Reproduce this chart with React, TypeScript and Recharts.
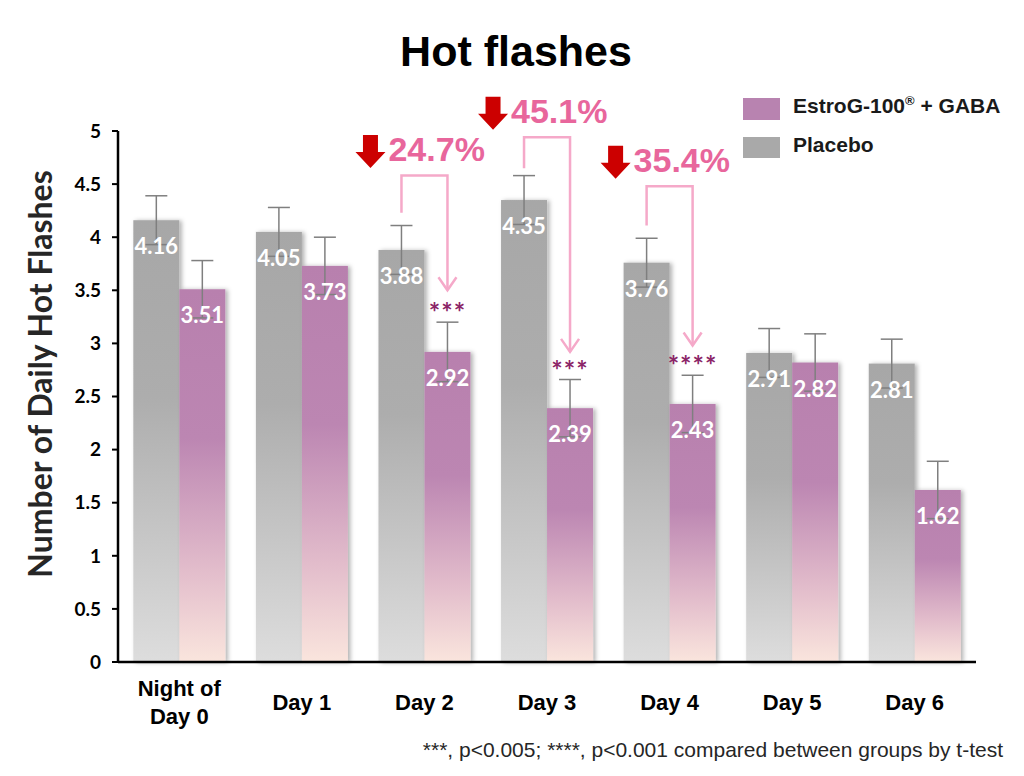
import React from 'react';
import { BarChart, Bar, XAxis, YAxis, ErrorBar } from 'recharts';

// categories and series
const categories = ['Night of\nDay 0', 'Day 1', 'Day 2', 'Day 3', 'Day 4', 'Day 5', 'Day 6'];
const placebo = [4.16, 4.05, 3.88, 4.35, 3.76, 2.91, 2.81];
const placeboErr = [0.23, 0.23, 0.23, 0.23, 0.23, 0.23, 0.23];
const estrog = [3.51, 3.73, 2.92, 2.39, 2.43, 2.82, 1.62];
const estrogErr = [0.27, 0.27, 0.28, 0.27, 0.27, 0.27, 0.27];
const stars = ['', '', '***', '***', '****', '', ''];
const yTicks = [0, 0.5, 1, 1.5, 2, 2.5, 3, 3.5, 4, 4.5, 5];

// reduction annotations (category index, percent, bracket levels in data units)
const dropDays = [2, 3, 4];
const dropPct = ['24.7%', '45.1%', '35.4%'];
const bracketTop = [4.58, 4.94, 4.48];
const bracketLeftEnd = [4.23, 4.65, 4.11];
const arrowTip = [3.5, 2.92, 2.98];

const rows = categories.map((cat, i) => ({
  cat,
  placebo: placebo[i],
  placeboErr: placeboErr[i],
  estrog: estrog[i],
  estrogErr: estrogErr[i],
}));

const CALIBRI = 'Lato, "Open Sans", sans-serif';
const ARIAL = '"Liberation Sans", Arial, sans-serif';

const ShadowBar = (props: any) => {
  const { x, y, width, height, fill } = props;
  if (!height || height <= 0) return null;
  return <rect x={x} y={y} width={width} height={height} fill={fill} filter="url(#barShadow)" />;
};

const PlaceboLabel = (props: any) => {
  const { x, y, width, height, value, index } = props;
  const bottom = y + height;
  const per = height / value;
  const yOf = (v: number) => bottom - v * per;
  const k = dropDays.indexOf(index);
  let annot = null;
  if (k >= 0) {
    const lx = x + width / 2;
    const rx = x + width * 1.5;
    const yt = yOf(bracketTop[k]);
    const yl = yOf(bracketLeftEnd[k]);
    const tip = yOf(arrowTip[k]);
    const base = yt - 14.5;
    const ax = lx - 31;
    const top = base - 26;
    const aTip = base + 7;
    const sb = top + 17;
    annot = (
      <g>
        <path d={`M${lx},${yl} V${yt} H${rx} V${tip}`} fill="none" stroke="#f5a9c9" strokeWidth={2.5} />
        <path d={`M${rx - 9},${tip - 13} L${rx},${tip} L${rx + 9},${tip - 13}`} fill="none" stroke="#f5a9c9" strokeWidth={2.5} />
        <polygon
          points={`${ax - 7.5},${top} ${ax + 7.5},${top} ${ax + 7.5},${sb} ${ax + 15},${sb} ${ax},${aTip} ${ax - 15},${sb} ${ax - 7.5},${sb}`}
          fill="#cc0000"
        />
        <text x={lx - 13} y={base} fontFamily={ARIAL} fontWeight="bold" fontSize={34} fill="#e8669c">
          {dropPct[k]}
        </text>
      </g>
    );
  }
  return (
    <g>
      <text x={x + width / 2} y={y + 34} textAnchor="middle" fontFamily={CALIBRI} fontWeight="bold" fontSize={22} fill="#fff">
        {value.toFixed(2)}
      </text>
      {annot}
    </g>
  );
};

const EstrogLabel = (props: any) => {
  const { x, y, width, height, value, index } = props;
  const bottom = y + height;
  const per = height / value;
  const errTop = bottom - (value + estrogErr[index]) * per;
  return (
    <g>
      <text x={x + width / 2} y={y + 34} textAnchor="middle" fontFamily={CALIBRI} fontWeight="bold" fontSize={22} fill="#fff">
        {value.toFixed(2)}
      </text>
      {stars[index] ? (
        <text
          x={x + width / 2}
          y={errTop - 15 + 15}
          textAnchor="middle"
          fontFamily={CALIBRI}
          fontWeight="bold"
          fontSize={27}
          letterSpacing={1}
          fill="#8b2467"
        >
          {stars[index]}
        </text>
      ) : null}
    </g>
  );
};

const CatTick = (props: any) => {
  const { x, y, payload } = props;
  const lines = String(payload.value).split('\n');
  const first = y + 40 - (lines.length - 1) * 14;
  return (
    <text textAnchor="middle" fontFamily={ARIAL} fontWeight="bold" fontSize={22} fill="#000">
      {lines.map((l, i) => (
        <tspan key={i} x={x} y={first + i * 28}>
          {l}
        </tspan>
      ))}
    </text>
  );
};

const YTitle = () => (
  <text
    x={52}
    y={374}
    transform="rotate(-90, 52, 374)"
    textAnchor="middle"
    fontFamily={CALIBRI}
    fontWeight="bold"
    fontSize={32}
    fill="#262626"
  >
    Number of Daily Hot Flashes
  </text>
);

export default function App() {
  return (
    <div style={{ position: 'absolute', left: 0, top: 0, width: 1024, height: 776, background: '#fff' }}>
      <BarChart
        width={1024}
        height={776}
        data={rows}
        margin={{ top: 131, right: 48, left: 48, bottom: 0 }}
        barCategoryGap="12.5%"
        barGap={0}
      >
        <defs>
          <linearGradient id="gPlacebo" x1="0" y1="0" x2="0" y2="1">
            <stop offset="0%" stopColor="#a7a7a7" />
            <stop offset="40%" stopColor="#adadad" />
            <stop offset="100%" stopColor="#dddddd" />
          </linearGradient>
          <linearGradient id="gEstrog" x1="0" y1="0" x2="0" y2="1">
            <stop offset="0%" stopColor="#b880ae" />
            <stop offset="40%" stopColor="#bc86b2" />
            <stop offset="75%" stopColor="#e2bccb" />
            <stop offset="100%" stopColor="#fae5dd" />
          </linearGradient>
          <filter id="barShadow" x="-20%" y="-5%" width="140%" height="110%">
            <feDropShadow dx={2.5} dy={0.5} stdDeviation={2} floodColor="#000" floodOpacity={0.3} />
          </filter>
        </defs>
        {/* boundary ticks + axis line, numeric 0..7 over the same width */}
        <XAxis
          xAxisId={0}
          type="number"
          domain={[0, categories.length]}
          ticks={categories.map((_, i) => i).concat(categories.length)}
          allowDataOverflow
          tick={false}
          tickSize={7}
          height={8}
          axisLine={{ stroke: '#000', strokeWidth: 2.5 }}
          tickLine={{ stroke: '#000', strokeWidth: 2.5 }}
        />
        <XAxis
          xAxisId="cat"
          dataKey="cat"
          interval={0}
          axisLine={false}
          tickLine={false}
          tickSize={0}
          tickMargin={0}
          height={106}
          tick={<CatTick />}
        />
        <YAxis
          domain={[0, 5]}
          ticks={yTicks}
          interval={0}
          width={70}
          tickSize={6}
          tickMargin={11}
          axisLine={{ stroke: '#000', strokeWidth: 2.5 }}
          tickLine={{ stroke: '#000', strokeWidth: 2 }}
          tick={{ fontFamily: CALIBRI, fontWeight: 'bold', fontSize: 19, fill: '#000' }}
          label={<YTitle />}
        />
        <Bar xAxisId="cat" dataKey="placebo" fill="url(#gPlacebo)" shape={ShadowBar} isAnimationActive={false} label={PlaceboLabel}>
          <ErrorBar dataKey="placeboErr" width={11} stroke="#7f7f7f" strokeWidth={1.5} direction="y" />
        </Bar>
        <Bar xAxisId="cat" dataKey="estrog" fill="url(#gEstrog)" shape={ShadowBar} isAnimationActive={false} label={EstrogLabel}>
          <ErrorBar dataKey="estrogErr" width={11} stroke="#7f7f7f" strokeWidth={1.5} direction="y" />
        </Bar>
      </BarChart>
      <svg width={1024} height={776} style={{ position: 'absolute', left: 0, top: 0, pointerEvents: 'none' }}>
        <text x={516} y={66} textAnchor="middle" fontFamily={ARIAL} fontWeight="bold" fontSize={43} fill="#000">
          Hot flashes
        </text>
        <rect x={743} y={98} width={37} height={22} fill="#b883b0" />
        <text x={793} y={113} fontFamily={ARIAL} fontWeight="bold" fontSize={21} fill="#1a1a1a">
          EstroG-100
          <tspan fontSize={13} dy={-8}>®</tspan>
          <tspan dy={8}> + GABA</tspan>
        </text>
        <rect x={743} y={137} width={37} height={21} fill="#a9a9a9" />
        <text x={793} y={152} fontFamily={ARIAL} fontWeight="bold" fontSize={21} fill="#1a1a1a">
          Placebo
        </text>
        <text x={1003} y={757} textAnchor="end" fontFamily={ARIAL} fontSize={21} fill="#262626">
          ***, p&lt;0.005; ****, p&lt;0.001 compared between groups by t-test
        </text>
      </svg>
    </div>
  );
}
